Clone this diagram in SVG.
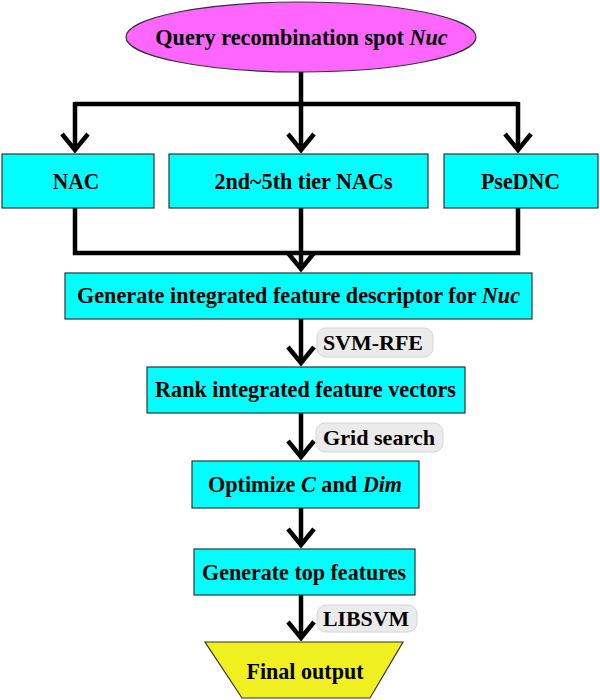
<svg xmlns="http://www.w3.org/2000/svg" width="600" height="700" viewBox="0 0 600 700">
<defs>
<style>
.t{font-family:"Liberation Serif","Times New Roman",serif;font-weight:bold;font-size:23.5px;fill:#000;text-anchor:middle}
.s{font-size:21.5px}
.m{font-size:22.2px}
.box{fill:#00ffff;stroke:#333;stroke-width:1.2}
.lbl{fill:#ebebeb;stroke:#d6d6d6;stroke-width:1}
.c{fill:none;stroke:#000;stroke-width:4.5}
.a{marker-end:url(#arr)}
</style>
<marker id="arr" markerUnits="userSpaceOnUse" markerWidth="40" markerHeight="40" refX="0" refY="0" orient="auto" overflow="visible">
<path d="M -16 -13 L 0 0 L -16 13" fill="none" stroke="#000" stroke-width="4.5"/>
</marker>
</defs>
<rect width="600" height="700" fill="#fff"/>
<g id="connectors">
<path class="c" d="M 301 71 V 104 M 75 104 H 518"/>
<path class="c a" d="M 75 102 V 150"/>
<path class="c a" d="M 301 102 V 150"/>
<path class="c a" d="M 518 102 V 150"/>
<path class="c" d="M 75 208 V 253 H 518 V 208 M 301 208 V 253"/>
<path class="c a" d="M 301 251 V 269"/>
<path class="c a" d="M 301 319 V 363"/>
<path class="c a" d="M 301 413 V 457"/>
<path class="c a" d="M 301 508 V 545"/>
<path class="c a" d="M 301 595 V 638"/>
</g>
<g id="query">
<ellipse cx="301" cy="37" rx="175" ry="35" fill="#ff66ff" stroke="#333" stroke-width="1.2"/>
<text class="t m" x="301.5" y="45">Query recombination spot <tspan font-style="italic">Nuc</tspan></text>
</g>
<g id="nac">
<rect class="box" x="2" y="154" width="152" height="54"/>
<text class="t" x="76" y="189" textLength="46.5" lengthAdjust="spacingAndGlyphs">NAC</text>
</g>
<g id="tier">
<rect class="box" x="169" y="154" width="259" height="54"/>
<text class="t" x="303.5" y="189" textLength="178" lengthAdjust="spacingAndGlyphs">2nd~5th tier NACs</text>
</g>
<g id="psednc">
<rect class="box" x="444" y="154" width="154" height="54"/>
<text class="t" x="520.5" y="189" textLength="79" lengthAdjust="spacingAndGlyphs">PseDNC</text>
</g>
<g id="integrate">
<rect class="box" x="65" y="273" width="467" height="46"/>
<text class="t m" x="298.5" y="303">Generate integrated feature descriptor for <tspan font-style="italic">Nuc</tspan></text>
</g>
<g id="svmrfe">
<rect class="lbl" x="317" y="328" width="116" height="29" rx="9"/>
<text class="t s" x="373" y="350" textLength="100" lengthAdjust="spacingAndGlyphs">SVM-RFE</text>
</g>
<g id="rank">
<rect class="box" x="147" y="367" width="318" height="46"/>
<text class="t" x="305.5" y="397" textLength="301" lengthAdjust="spacingAndGlyphs">Rank integrated feature vectors</text>
</g>
<g id="grid">
<rect class="lbl" x="316" y="423" width="127" height="29" rx="9"/>
<text class="t s" x="379" y="445" textLength="112" lengthAdjust="spacingAndGlyphs">Grid search</text>
</g>
<g id="optimize">
<rect class="box" x="192" y="461" width="227" height="47"/>
<text class="t m" x="305" y="492">Optimize <tspan font-style="italic">C</tspan> and <tspan font-style="italic">Dim</tspan></text>
</g>
<g id="topfeat">
<rect class="box" x="194" y="549" width="221" height="46"/>
<text class="t" x="304" y="580" textLength="204" lengthAdjust="spacingAndGlyphs">Generate top features</text>
</g>
<g id="libsvm">
<rect class="lbl" x="317" y="605" width="100" height="27" rx="9"/>
<text class="t s" x="366" y="626" textLength="86" lengthAdjust="spacingAndGlyphs">LIBSVM</text>
</g>
<g id="final">
<polygon points="205,642 403,642 370,698 242,698" fill="#f0f020" stroke="#333" stroke-width="1.2"/>
<text class="t" x="305" y="679" textLength="117" lengthAdjust="spacingAndGlyphs">Final output</text>
</g>
</svg>
